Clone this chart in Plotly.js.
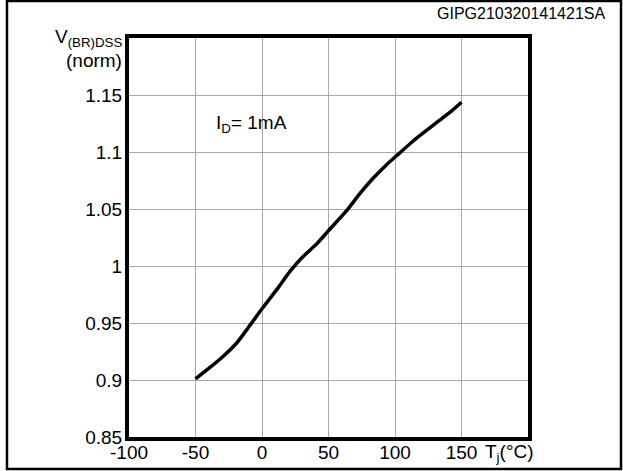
<!DOCTYPE html>
<html>
<head>
<meta charset="utf-8">
<script src="https://cdn.plot.ly/plotly-3.0.1.min.js"></script>
<style>html,body{margin:0;padding:0;background:#fff;}#chart{width:623px;height:471px;}</style>
</head>
<body>
<div id="chart"></div>
<script>
var tempC = [-50, -39.1, -28.7, -18.7, -10, 0, 11.2, 21.2, 31.1, 41.2, 50, 63.6, 73.4, 83.2, 93.1, 103, 112.8, 122.7, 132.6, 142.4, 150];
var vNorm = [0.901, 0.911, 0.9213, 0.9329, 0.9465, 0.9625, 0.9795, 0.9955, 1.0085, 1.0195, 1.031, 1.0485, 1.0632, 1.0765, 1.0882, 1.0986, 1.1088, 1.118, 1.127, 1.1358, 1.1436];
var xTicks = [-100, -50, 0, 50, 100, 150];
var yTicks = [0.85, 0.9, 0.95, 1, 1.05, 1.1, 1.15];
var yTickText = ["0.85", "0.9", "0.95", "1", "1.05", "1.1", "1.15"];

var font = "Liberation Sans, Arial, sans-serif";
var trace = {
  x: tempC, y: vNorm, mode: "lines", type: "scatter",
  line: {color: "#000", width: 3.5, shape: "spline", smoothing: 0.7},
  hoverinfo: "skip"
};
var layout = {
  width: 623, height: 471,
  margin: {l: 129, r: 95, t: 38, b: 34, pad: 0},
  paper_bgcolor: "#fff", plot_bgcolor: "#fff",
  showlegend: false,
  font: {family: font, size: 19, color: "#000"},
  xaxis: {
    range: [-100, 200], tickvals: xTicks, ticktext: xTicks.map(String),
    showgrid: true, gridcolor: "#a8a8a8", gridwidth: 1,
    showline: true, linecolor: "#000", linewidth: 4, mirror: true,
    zeroline: false, ticks: "", ticklabelstandoff: -5,
    tickfont: {family: font, size: 19, color: "#000"}
  },
  yaxis: {
    range: [0.85, 1.2], tickvals: yTicks, ticktext: yTickText,
    showgrid: true, gridcolor: "#a8a8a8", gridwidth: 1,
    showline: true, linecolor: "#000", linewidth: 4, mirror: true,
    zeroline: false, ticks: "", ticklabelstandoff: -1,
    tickfont: {family: font, size: 19, color: "#000"}
  },
  annotations: [
    {xref: "paper", yref: "paper", x: -0.012, y: 1.0, xanchor: "right", yanchor: "middle",
     text: "V<sub>(BR)DSS</sub>", showarrow: false, font: {family: font, size: 19}},
    {xref: "paper", yref: "paper", x: -0.012, y: 0.943, xanchor: "right", yanchor: "middle",
     text: "(norm)", showarrow: false, font: {family: font, size: 19}},
    {xref: "x", yref: "y", x: -36, y: 1.125, xanchor: "left", yanchor: "middle",
     text: "I<sub>D</sub>= 1mA", showarrow: false, font: {family: font, size: 19}},
    {xref: "x", yref: "paper", x: 166, y: -0.04, xanchor: "left", yanchor: "middle",
     text: "T<sub>j</sub>(°C)", showarrow: false, font: {family: font, size: 19}},
    {xref: "paper", yref: "paper", x: 1.198, y: 1.035, xanchor: "right", yanchor: "bottom",
     text: "GIPG210320141421SA", showarrow: false, font: {family: font, size: 16}}
  ],
  shapes: [
    {type: "rect", xref: "paper", yref: "paper", x0: -0.3058, x1: 1.2331, y0: -0.0802, y1: 1.0927,
     line: {color: "#000", width: 2.5}, fillcolor: "rgba(0,0,0,0)", layer: "above"}
  ]
};
Plotly.newPlot("chart", [trace], layout, {displayModeBar: false, staticPlot: true});
</script>
</body>
</html>
